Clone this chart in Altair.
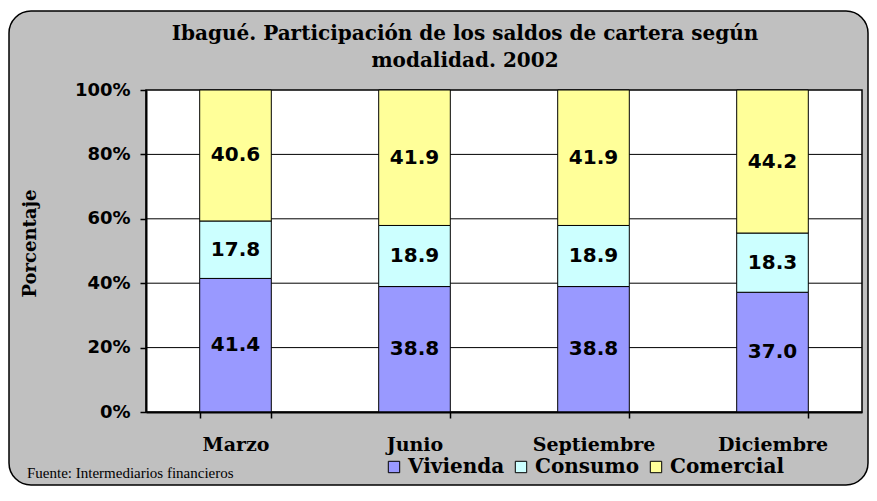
import altair as alt
import pandas as pd

meses = ["Marzo", "Junio", "Septiembre", "Diciembre"]
modalidades = ["Vivienda", "Consumo", "Comercial"]
vivienda = [41.4, 38.8, 38.8, 37.0]
consumo = [17.8, 18.9, 18.9, 18.3]
comercial = [40.6, 41.9, 41.9, 44.2]
colores = ["#9999FF", "#CCFFFF", "#FFFF99"]
y_ticks = [0, 0.2, 0.4, 0.6, 0.8, 1.0]
grid_vals = [0.2, 0.4, 0.6, 0.8]
titulo = ["Ibagué. Participación de los saldos de cartera según", "modalidad. 2002"]
fuente_txt = "Fuente: Intermediarios financieros"

rows = []
for i, m in enumerate(meses):
    for j, (mod, serie) in enumerate(zip(modalidades, [vivienda, consumo, comercial])):
        rows.append({"mes": m, "modalidad": mod, "orden": j, "valor": serie[i]})
df = pd.DataFrame(rows)
grid_df = pd.DataFrame({"v": grid_vals})

W, H = 716, 322
SERIF = "DejaVu Serif"
SANS = "DejaVu Sans"

x_enc = alt.X("mes:N", sort=meses,
              scale=alt.Scale(paddingInner=0.6, paddingOuter=0.3),
              axis=alt.Axis(title=None, labelAngle=0, tickBand="extent",
                            labelFont=SERIF, labelFontWeight="bold", labelFontSize=19,
                            labelColor="black", labelPadding=17, tickSize=6,
                            tickColor="black", domainColor="black", domainWidth=2,
                            tickWidth=1.5, zindex=1))
y_scale = alt.Scale(domain=[0, 1], nice=False)

frame = alt.Chart(pd.DataFrame({"k": [0]})).mark_rect(
    fill="#C0C0C0", stroke="black", strokeWidth=1.5, cornerRadius=22
).encode(x=alt.value(-137), x2=alt.value(W + 6), y=alt.value(-79), y2=alt.value(H + 73))

plot_bg = alt.Chart(pd.DataFrame({"k": [0]})).mark_rect(
    fill="white", stroke="black", strokeWidth=1.5
).encode(x=alt.value(0), x2=alt.value(W), y=alt.value(0), y2=alt.value(H))

grid = alt.Chart(grid_df).mark_rule(color="black", strokeWidth=1).encode(
    y=alt.Y("v:Q", scale=y_scale)
)

base = alt.Chart(df).transform_stack(
    stack="valor", groupby=["mes"], as_=["v0", "v1"], offset="normalize",
    sort=[alt.SortField("orden", order="ascending")]
).transform_calculate(mid="(datum.v0 + datum.v1) / 2")

bars = base.mark_bar(stroke="black", strokeWidth=1).encode(
    x=x_enc,
    y=alt.Y("v0:Q", scale=y_scale,
            axis=alt.Axis(values=y_ticks, format=".0%", grid=False,
                          title="Porcentaje", titleFont=SERIF, titleFontWeight="bold",
                          titleFontSize=18, titleColor="black", titleX=-116, titleY=153,
                          titleAlign="center", titleBaseline="middle", titleAngle=270,
                          labelFont=SANS, labelFontWeight="bold", labelFontSize=18,
                          labelColor="black", labelPadding=10, tickSize=6,
                          tickColor="black", tickWidth=1.5, domainColor="black",
                          domainWidth=2, zindex=1)),
    y2="v1:Q",
    color=alt.Color("modalidad:N",
                    scale=alt.Scale(domain=modalidades, range=colores),
                    legend=alt.Legend(orient="none", direction="horizontal",
                                      legendX=238, legendY=367, title=None,
                                      symbolType="square", symbolSize=130,
                                      symbolStrokeColor="black", symbolStrokeWidth=1,
                                      labelFont=SERIF, labelFontWeight="bold",
                                      labelFontSize=20, labelColor="black",
                                      labelOffset=4, columnPadding=6)),
)

labels = base.mark_text(font=SANS, fontWeight="bold", fontSize=20, color="black").encode(
    x=alt.X("mes:N", sort=meses),
    y=alt.Y("mid:Q", scale=y_scale),
    text=alt.Text("valor:Q", format=".1f"),
)

title_df = pd.DataFrame({"t": titulo})
title1 = alt.Chart(title_df.iloc[[0]]).mark_text(
    font=SERIF, fontWeight="bold", fontSize=20, align="center", baseline="alphabetic",
    color="black"
).encode(x=alt.value(319), y=alt.value(-50), text="t:N")
title2 = alt.Chart(title_df.iloc[[1]]).mark_text(
    font=SERIF, fontWeight="bold", fontSize=20, align="center", baseline="alphabetic",
    color="black"
).encode(x=alt.value(319), y=alt.value(-23), text="t:N")

fuente = alt.Chart(pd.DataFrame({"t": [fuente_txt]})).mark_text(
    font="Liberation Serif", fontSize=15, align="left", baseline="alphabetic", color="black"
).encode(x=alt.value(-119), y=alt.value(H + 66), text="t:N")

chart = alt.layer(frame, plot_bg, grid, bars, labels, title1, title2, fuente).properties(
    width=W, height=H,
    autosize="none",
    padding={"left": 138, "top": 82, "right": 7, "bottom": 74},
    background="white",
).configure_view(stroke=None)

chart.save("out.html", embed_options={"renderer": "svg", "actions": False})
